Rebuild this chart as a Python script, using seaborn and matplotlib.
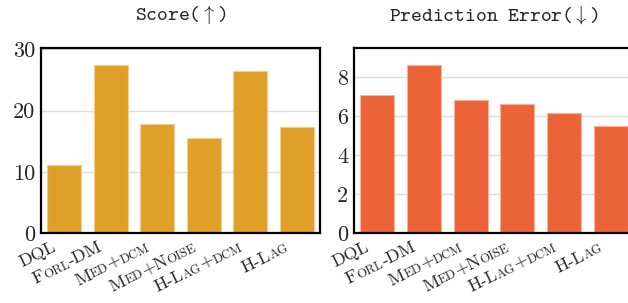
import math
import matplotlib
matplotlib.use("Agg")
import matplotlib.pyplot as plt
import pandas as pd
import seaborn as sns

# Data (lowercase letters are shown as small caps)
methods = ["DQL", "Forl-DM", "Med+dcm", "Med+Noise", "H-Lag+dcm", "H-Lag"]
score = [11.05, 27.5, 17.8, 15.6, 26.4, 17.4]
pred_error = [7.08, 8.62, 6.80, 6.62, 6.14, 5.49]

score_ticks = [0, 10, 20, 30]
error_ticks = [0, 2, 4, 6, 8]

sns.set_style("white")
plt.rcParams["mathtext.fontset"] = "cm"
plt.rcParams["axes.formatter.use_mathtext"] = True
plt.rcParams["font.family"] = ["cmr10", "DejaVu Serif"]

df = pd.DataFrame({"method": methods, "score": score, "error": pred_error})

fig = plt.figure(figsize=(6.28, 3.03), dpi=100)
ax1 = fig.add_axes([0.0653, 0.231, 0.4443, 0.611])
ax2 = fig.add_axes([0.5637, 0.231, 0.4459, 0.611])

panels = [
    (ax1, "score", "#E09F26", "#F3CE8C", score_ticks, r"Score($\uparrow$)"),
    (ax2, "error", "#EB6337", "#F7B39C", error_ticks, r"Prediction Error($\downarrow$)"),
]

for ax, col, color, edge, ticks, title in panels:
    ax.set_axisbelow(True)
    sns.barplot(data=df, x="method", y=col, color=color, saturation=1,
                width=0.73, edgecolor=edge, linewidth=0.8, ax=ax)
    ax.set_xlim(-0.5, 5.5)
    ax.set_ylim(0, max(df[col]) * 1.1)
    ax.set_yticks(ticks)
    ax.set_yticklabels([str(t) for t in ticks], fontsize=16)
    ax.yaxis.grid(True, color="#dddddd", linewidth=1)
    ax.set_xlabel("")
    ax.set_ylabel("")
    ax.set_xticks(range(len(methods)))
    ax.set_xticklabels([""] * len(methods))
    ax.tick_params(axis="y", direction="in", length=7.5, width=1.6,
                   color="#777777", pad=4)
    ax.tick_params(axis="x", direction="out", length=6, width=1.6,
                   color="#777777", pad=6)
    for s in ax.spines.values():
        s.set_visible(True)
        s.set_color("black")
        s.set_linewidth(1.6)
    ax.set_title(title, fontfamily="cmtt10", fontsize=14.8, pad=20)

# x labels in small caps: runs of big / small capitals along a rotated baseline
renderer = fig.canvas.get_renderer()
big, small = 13, 9.3
angle = 26
u = (math.cos(math.radians(angle)), math.sin(math.radians(angle)))


def runs_of(label):
    out = []
    for ch in label:
        sz = small if ch.islower() else big
        if out and out[-1][1] == sz:
            out[-1][0] += ch.upper()
        else:
            out.append([ch.upper(), sz])
    return out


def text_width(s, sz):
    t = fig.text(0, 0, s, fontsize=sz)
    w = t.get_window_extent(renderer).width
    t.remove()
    return w


for ax in (ax1, ax2):
    y0 = ax.transAxes.transform((0, 0))[1]
    for i, label in enumerate(methods):
        x0 = ax.transData.transform((i, 0))[0]
        runs = runs_of(label)
        widths = [text_width(s, sz) for s, sz in runs]
        total = sum(widths)
        # right end of the baseline sits just below-left of the tick
        bx = x0 - 7 - total * u[0]
        by = y0 - 17.5 - total * u[1]
        pos = 0.0
        for (s, sz), w in zip(runs, widths):
            fx, fy = fig.transFigure.inverted().transform((bx + pos * u[0], by + pos * u[1]))
            fig.text(fx, fy, s, fontsize=sz, rotation=angle,
                     rotation_mode="anchor", ha="left", va="baseline")
            pos += w

fig.savefig("out.png", dpi=100)
